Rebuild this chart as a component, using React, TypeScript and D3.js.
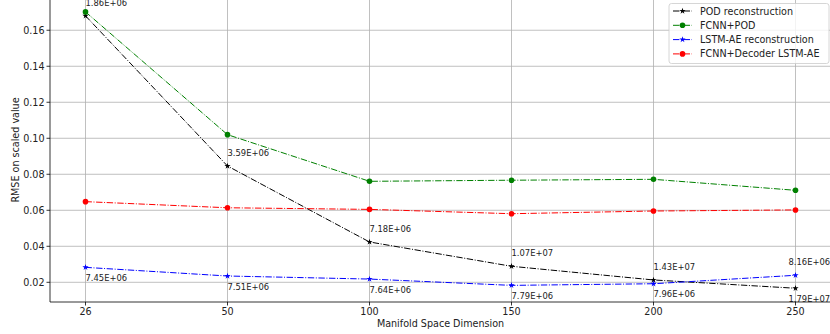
import * as d3 from "d3";

const W = 830;
const H = 334;

const categories = ["26", "50", "100", "150", "200", "250"];
const yTicks = [0.02, 0.04, 0.06, 0.08, 0.1, 0.12, 0.14, 0.16];

const podRecon = [0.168, 0.0846, 0.0424, 0.0289, 0.0213, 0.0167];
const fcnnPod = [0.1702, 0.102, 0.0761, 0.0767, 0.0772, 0.0711];
const lstmRecon = [0.0283, 0.0235, 0.0218, 0.0183, 0.0192, 0.0239];
const fcnnDecoder = [0.0648, 0.0614, 0.0605, 0.0581, 0.0596, 0.0602];

const podLabels = ["1.86E+06", "3.59E+06", "7.18E+06", "1.07E+07", "1.43E+07", "1.79E+07"];
const podLabelAbove = [true, true, true, true, true, false];
const lstmLabels = ["7.45E+06", "7.51E+06", "7.64E+06", "7.79E+06", "7.96E+06", "8.16E+06"];
const lstmLabelAbove = [false, false, false, false, false, true];

const FONT = "DejaVu Sans, sans-serif";
const DASH = "6.4,1.6,1,1.6";

type Series = { name: string; values: number[]; color: string; marker: "star" | "circle" };

const series: Series[] = [
  { name: "POD reconstruction", values: podRecon, color: "black", marker: "star" },
  { name: "FCNN+POD", values: fcnnPod, color: "green", marker: "circle" },
  { name: "LSTM-AE reconstruction", values: lstmRecon, color: "blue", marker: "star" },
  { name: "FCNN+Decoder LSTM-AE", values: fcnnDecoder, color: "red", marker: "circle" },
];

const left = 50;
const right = 831;
const top = -2;
const bottom = 302;

const starPath = d3.symbol(d3.symbolStar, 12)()!;

function Marker({ x, y, kind, color }: { x: number; y: number; kind: string; color: string }) {
  if (kind === "circle") return <circle cx={x} cy={y} r={2.8} fill={color} />;
  return <path d={starPath} transform={`translate(${x},${y})`} fill={color} />;
}

export default function App() {
  const x = d3.scalePoint<string>().domain(categories).range([left, right]).padding(0.25);
  const y = d3.scaleLinear().domain([0.00906, 0.1768]).range([bottom, 0]);
  const line = d3
    .line<number>()
    .x((_, i) => x(categories[i])!)
    .y((d) => y(d));

  const labelRows = [
    { labels: podLabels, above: podLabelAbove, values: podRecon },
    { labels: lstmLabels, above: lstmLabelAbove, values: lstmRecon },
  ];

  return (
    <svg
      width={W}
      height={H}
      style={{ position: "absolute", left: 0, top: 0, background: "white" }}
      fontFamily={FONT}
    >
      {/* grid */}
      {categories.map((c) => (
        <line key={c} x1={x(c)} x2={x(c)} y1={top} y2={bottom} stroke="#b0b0b0" strokeWidth={0.8} />
      ))}
      {yTicks.map((t) => (
        <line key={t} x1={left} x2={right} y1={y(t)} y2={y(t)} stroke="#b0b0b0" strokeWidth={0.8} />
      ))}

      {/* series */}
      {series.map((s) => (
        <g key={s.name}>
          <path d={line(s.values)!} fill="none" stroke={s.color} strokeWidth={1} strokeDasharray={DASH} />
          {s.values.map((v, i) => (
            <Marker key={i} x={x(categories[i])!} y={y(v)} kind={s.marker} color={s.color} />
          ))}
        </g>
      ))}

      {/* annotations */}
      {labelRows.map((row, r) =>
        row.labels.map((lab, i) => {
          const last = i === categories.length - 1;
          return (
            <text
              key={`${r}-${i}`}
              x={x(categories[i])! + (last ? -7 : 0)}
              y={y(row.values[i]) + (row.above[i] ? -13 : 10.5)}
              dominantBaseline="central"
              fontSize={8.4}
              fill="#222"
            >
              {lab}
            </text>
          );
        }),
      )}

      {/* spines */}
      <line x1={left} x2={left} y1={top} y2={bottom} stroke="black" strokeWidth={0.8} />
      <line x1={left} x2={right} y1={bottom} y2={bottom} stroke="black" strokeWidth={0.8} />

      {/* y ticks */}
      {yTicks.map((t) => (
        <g key={t}>
          <line x1={left - 3.5} x2={left} y1={y(t)} y2={y(t)} stroke="black" strokeWidth={0.8} />
          <text x={left - 5.5} y={y(t)} textAnchor="end" dominantBaseline="central" fontSize={9.6} fill="#222">
            {d3.format(".2f")(t)}
          </text>
        </g>
      ))}

      {/* x ticks */}
      {categories.map((c) => (
        <g key={c}>
          <line x1={x(c)} x2={x(c)} y1={bottom} y2={bottom + 3.5} stroke="black" strokeWidth={0.8} />
          <text x={x(c)} y={311.7} textAnchor="middle" dominantBaseline="central" fontSize={9.6} fill="#222">
            {c}
          </text>
        </g>
      ))}

      <text x={(left + right) / 2} y={323.5} textAnchor="middle" dominantBaseline="central" fontSize={9.6} fill="#222">
        Manifold Space Dimension
      </text>
      <text
        transform={`translate(15,${(top + bottom) / 2}) rotate(-90)`}
        textAnchor="middle"
        dominantBaseline="central"
        fontSize={9.6}
        fill="#222"
      >
        RMSE on scaled value
      </text>

      {/* legend */}
      <g transform="translate(669,3.5)">
        <rect width={160} height={60} rx={2.5} fill="white" fillOpacity={0.8} stroke="#cccccc" strokeWidth={0.8} />
        {series.map((s, i) => {
          const cy = 7.5 + i * 14.3;
          return (
            <g key={s.name}>
              <line x1={4} x2={23} y1={cy} y2={cy} stroke={s.color} strokeWidth={1} strokeDasharray={DASH} />
              <Marker x={13.5} y={cy} kind={s.marker} color={s.color} />
              <text x={31} y={cy} dominantBaseline="central" fontSize={9.6} fill="#222">
                {s.name}
              </text>
            </g>
          );
        })}
      </g>
    </svg>
  );
}
